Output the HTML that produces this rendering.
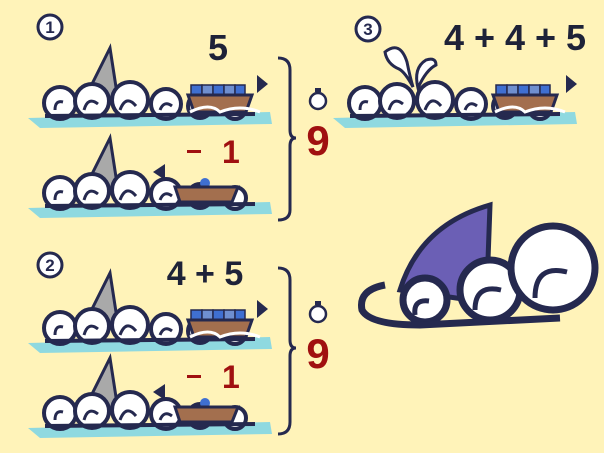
<!DOCTYPE html>
<html><head><meta charset="utf-8"><style>
html,body{margin:0;padding:0;background:#fff3b9;}
svg{display:block}
text{font-family:"Liberation Sans",sans-serif;}
</style></head><body>
<svg width="604" height="453" viewBox="0 0 604 453">
<defs>
  <g id="waves">
    <path d="M28 118 L270 112 L272 124 L40 128 Z" fill="#8fd9e0"/>
    <g fill="#fff" stroke="#25294f" stroke-width="4">
      <circle cx="60" cy="103" r="16"/>
      <circle cx="92" cy="101" r="17"/>
      <circle cx="130" cy="100" r="18"/>
      <circle cx="166" cy="104" r="15"/>
      <circle cx="200" cy="106" r="12"/>
      <circle cx="235" cy="108" r="11"/>
    </g>
    <path d="M45 116 L255 114" stroke="#25294f" stroke-width="4"/>
    <g fill="none" stroke="#25294f" stroke-width="3">
      <path d="M55 110 q0 -10 8 -8"/><path d="M84 110 q4 -14 14 -6"/>
      <path d="M120 110 q6 -16 16 -4"/><path d="M160 110 q4 -10 12 -4"/>
    </g>
  </g>
  <g id="fin"><path d="M84 100 L110 48 L118 100 Z" fill="#a9a9a9" stroke="#25294f" stroke-width="3"/></g>
  <g id="boat5">
    <g fill="#3f6fd1" stroke="#25294f" stroke-width="1.5">
      <rect x="191" y="85" width="11" height="11"/><rect x="202" y="85" width="11" height="11" fill="#6f8fd0"/>
      <rect x="213" y="85" width="11" height="11"/><rect x="224" y="85" width="11" height="11" fill="#6f8fd0"/>
      <rect x="235" y="85" width="10" height="11"/>
    </g>
    <path d="M188 95 L252 95 L246 112 L194 112 Z" fill="#a36f4e" stroke="#25294f" stroke-width="3"/>
    <path d="M190 112 q20 -10 30 0 q20 -8 40 0" fill="none" stroke="#fff" stroke-width="3"/>
  </g>
</defs>

<!-- section 1 -->
<g>
  <circle cx="50" cy="27" r="12" fill="#fff" stroke="#25294f" stroke-width="3"/>
  <text x="50" y="33" font-size="17" font-weight="bold" text-anchor="middle" fill="#25294f">1</text>
  <text x="218" y="60" font-size="36" font-weight="bold" text-anchor="middle" fill="#1e2238">5</text>
  <use href="#fin"/>
  <use href="#waves"/>
  <use href="#boat5"/>
  <path d="M257 75 L268 84 L257 93 Z" fill="#25294f"/>
  <g transform="translate(0,90)">
    <use href="#fin"/>
    <use href="#waves"/>
    <path d="M165 74 L153 82 L165 90 Z" fill="#25294f"/>
    <circle cx="205" cy="93" r="5" fill="#3f6fd1"/>
    <path d="M175 97 L238 97 L232 112 L180 112 Z" fill="#a36f4e" stroke="#25294f" stroke-width="3"/>
  </g>
  <text x="222" y="163" font-size="32" fill="#a01010" font-weight="bold">1</text>
  <rect x="187" y="150" width="14" height="3" fill="#a01010"/>
  <path d="M278 58 Q290 58 290 70 L290 130 Q290 138 296 138 Q290 138 290 146 L290 210 Q290 220 278 220" fill="none" stroke="#25294f" stroke-width="3"/>
  <circle cx="318" cy="101" r="8" fill="#fff" stroke="#25294f" stroke-width="2.5"/>
  <rect x="315" y="88" width="6" height="4" fill="#25294f"/>
  <text x="318" y="155" font-size="42" font-weight="bold" text-anchor="middle" fill="#a01010">9</text>
</g>

<!-- section 2 -->
<g transform="translate(0,210)">
  <circle cx="50" cy="55" r="12" fill="#fff" stroke="#25294f" stroke-width="3"/>
  <text x="50" y="61" font-size="17" font-weight="bold" text-anchor="middle" fill="#25294f">2</text>
  <text x="205" y="75" font-size="34" font-weight="bold" text-anchor="middle" fill="#1e2238">4 + 5</text>
  <g transform="translate(0,15)">
    <use href="#fin"/><use href="#waves"/><use href="#boat5"/>
    <path d="M257 75 L268 84 L257 93 Z" fill="#25294f"/>
  </g>
  <g transform="translate(0,100)">
    <use href="#fin"/><use href="#waves"/>
    <path d="M165 74 L153 82 L165 90 Z" fill="#25294f"/>
    <circle cx="205" cy="93" r="5" fill="#3f6fd1"/>
    <path d="M175 97 L238 97 L232 112 L180 112 Z" fill="#a36f4e" stroke="#25294f" stroke-width="3"/>
  </g>
  <text x="222" y="178" font-size="32" fill="#a01010" font-weight="bold">1</text>
  <rect x="187" y="165" width="14" height="3" fill="#a01010"/>
  <path d="M278 58 Q290 58 290 70 L290 130 Q290 138 296 138 Q290 138 290 146 L290 212 Q290 224 278 224" fill="none" stroke="#25294f" stroke-width="3"/>
  <circle cx="318" cy="104" r="8" fill="#fff" stroke="#25294f" stroke-width="2.5"/>
  <rect x="315" y="91" width="6" height="4" fill="#25294f"/>
  <text x="318" y="158" font-size="42" font-weight="bold" text-anchor="middle" fill="#a01010">9</text>
</g>

<!-- section 3 -->
<g>
  <circle cx="368" cy="29" r="12" fill="#fff" stroke="#25294f" stroke-width="3"/>
  <text x="368" y="35" font-size="17" font-weight="bold" text-anchor="middle" fill="#25294f">3</text>
  <text x="515" y="50" font-size="36" font-weight="bold" text-anchor="middle" fill="#1e2238">4 + 4 + 5</text>
  <g transform="translate(305,0)">
    <use href="#waves"/><use href="#boat5"/>
    <path d="M261 75 L272 84 L261 93 Z" fill="#25294f"/>
  </g>
  <g fill="#fff" stroke="#25294f" stroke-width="3">
    <path d="M385 52 q15 -12 22 10 q3 15 6 25 q-8 -15 -14 -18 q-12 -5 -14 -17z"/>
    <path d="M418 88 q-5 -20 8 -28 q10 -3 10 5 q-10 5 -18 23z"/>
  </g>
</g>

<!-- big logo fin -->
<g>
  <path d="M400 290 Q420 225 490 205 L488 260 L470 300 Z" fill="#6b5fb5" stroke="#25294f" stroke-width="5"/>
  <g fill="#fff" stroke="#25294f" stroke-width="7">
    <circle cx="425" cy="300" r="22"/>
    <circle cx="490" cy="290" r="30"/>
    <circle cx="553" cy="268" r="42"/>
  </g>
  <path d="M385 285 Q358 290 362 310 Q370 325 420 325 L560 318" fill="none" stroke="#25294f" stroke-width="7"/>
  <g fill="none" stroke="#25294f" stroke-width="5">
    <path d="M415 315 q-2 -16 14 -14"/><path d="M475 310 q0 -26 26 -20"/><path d="M535 298 q0 -34 32 -26"/>
  </g>
</g>
</svg>
</body></html>
